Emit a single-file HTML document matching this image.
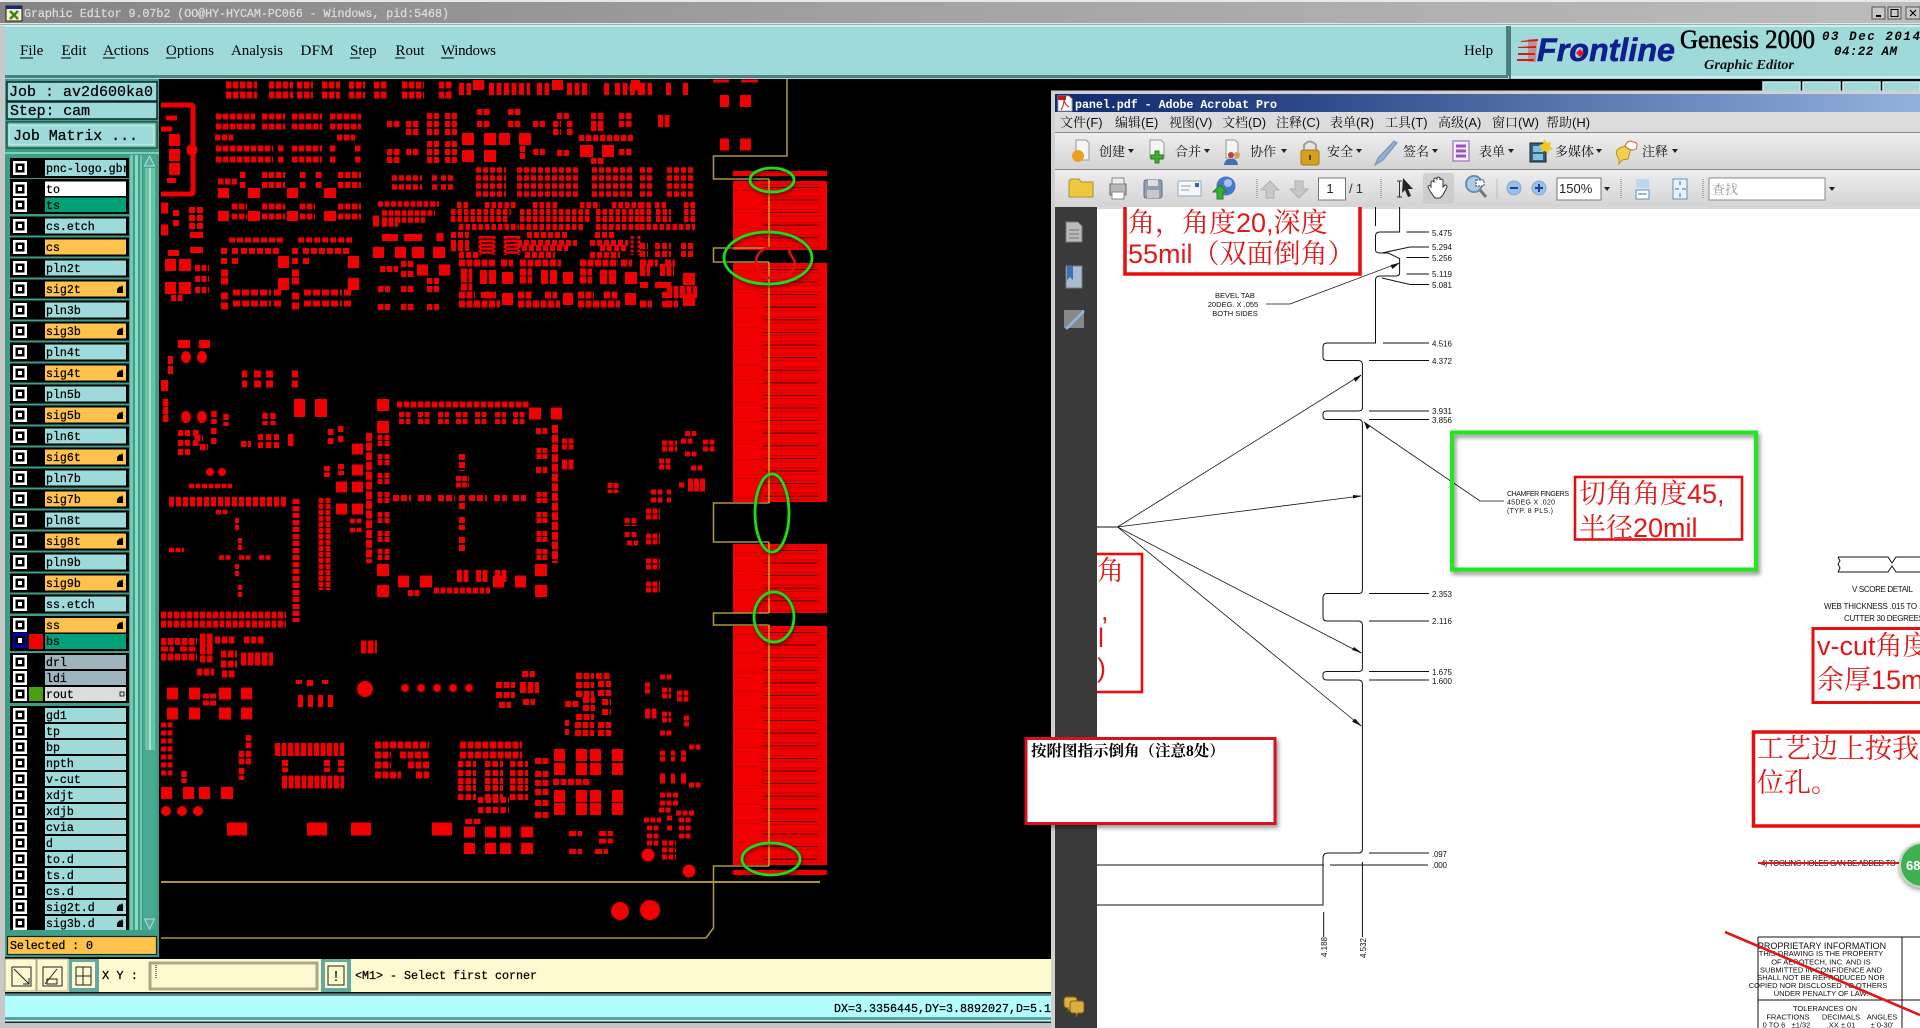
<!DOCTYPE html>
<html><head><meta charset="utf-8"><title>Graphic Editor</title>
<style>
html,body{margin:0;padding:0;background:#000;width:1920px;height:1028px;overflow:hidden}
svg{display:block}
.m{font-family:"Liberation Mono",monospace}
.s{font-family:"Liberation Serif",serif}
.a{font-family:"Liberation Sans",sans-serif}
.l{font:11.6px "Liberation Mono",monospace;fill:#000;stroke:#000;stroke-width:.25}
.mn{font:15px "Liberation Serif",serif;fill:#000}
.t{font:13px "Liberation Sans","Noto Serif CJK SC",serif;fill:#111}
.d{font:8px "Liberation Sans",sans-serif;fill:#111}
.d7{font:7px "Liberation Sans",sans-serif;fill:#111}
.r{font:27px "Liberation Sans","Noto Serif CJK SC",serif;fill:#e01818}
.c{font:7.5px "Liberation Sans",sans-serif;fill:#111;text-anchor:middle}
</style></head><body>
<svg width="1920" height="1028" viewBox="0 0 1920 1028" xmlns="http://www.w3.org/2000/svg">
<defs>
<linearGradient id="tb" x1="0" x2="1" y1="0" y2="0"><stop offset="0" stop-color="#858585"/><stop offset=".5" stop-color="#a4a4a4"/><stop offset="1" stop-color="#bcbcbc"/></linearGradient>
<linearGradient id="pt" x1="0" x2="1" y1="0" y2="0"><stop offset="0" stop-color="#0f2a6e"/><stop offset=".3" stop-color="#2f4a8a"/><stop offset="1" stop-color="#92b2de"/></linearGradient>
<linearGradient id="tg" x1="0" x2="0" y1="0" y2="1"><stop offset="0" stop-color="#eeeeee"/><stop offset="1" stop-color="#d4d4d4"/></linearGradient>
<g id="c"><rect x="13" y="-7" width="14" height="14" fill="#fff"/><rect x="15.5" y="-4.5" width="9" height="9" fill="#000"/><rect x="18" y="-2" width="4" height="4" fill="#fff"/></g>
<path id="h" d="M117 4h6v-6l-1-2-1 2-1-1-3 3z" fill="#000"/>
<clipPath id="pc"><rect x="1097" y="207" width="823" height="821"/></clipPath>
</defs>

<rect width="1920" height="1028" fill="#000"/>
<!-- title -->
<rect width="1920" height="2" fill="#e8e8e8"/>
<rect y="2" width="1920" height="21" fill="url(#tb)"/>
<rect y="23" width="1920" height="1.5" fill="#e4e4e4"/>
<rect y="24.5" width="1920" height="1.5" fill="#567e7e"/>
<rect x="6" y="6" width="16" height="15" fill="#f4f4c8" stroke="#222"/>
<rect x="6" y="6" width="16" height="3" fill="#1a237e"/>
<path d="M10 11l8 8M18 11l-8 8" stroke="#38861a" stroke-width="2.5"/>
<text x="24" y="17" class="m" font-size="11.7" fill="#dcdcdc" stroke="#dcdcdc" stroke-width=".25" textLength="425">Graphic Editor 9.07b2 (OO@HY-HYCAM-PC066 - Windows, pid:5468)</text>
<rect x="1872" y="7" width="13" height="12" fill="#c8c8c8" stroke="#555"/><rect x="1876" y="15" width="5" height="2" fill="#000"/>
<rect x="1888" y="7" width="13" height="12" fill="#c8c8c8" stroke="#555"/><rect x="1891" y="9.5" width="7" height="7" fill="none" stroke="#000"/>
<rect x="1906" y="7" width="14" height="12" fill="#c8c8c8" stroke="#555"/><path d="M1910 10l6 6M1916 10l-6 6" stroke="#000" stroke-width="1.2"/>

<!-- menu -->
<rect y="26" width="1920" height="53" fill="#9fdada"/>
<rect y="25" width="1920" height="2" fill="#cdeeee"/>
<rect x="0" y="75" width="1508" height="3" fill="#4e7f80"/>
<rect x="1506" y="26" width="3" height="50" fill="#4e7f80"/>
<rect x="1509" y="26" width="2" height="53" fill="#4e7f80"/>
<rect x="1511" y="76" width="409" height="2" fill="#cdeeee"/>
<rect x="0" y="26" width="5" height="1002" fill="#c8c8c8"/>
<g class="mn">
<text x="20" y="55" class="mn">File</text><text x="61.5" y="55" class="mn">Edit</text><text x="103" y="55" class="mn" textLength="46">Actions</text><text x="166" y="55" class="mn" textLength="48">Options</text><text x="231" y="55" class="mn" textLength="52">Analysis</text><text x="300.5" y="55" class="mn" textLength="33">DFM</text><text x="350" y="55" class="mn">Step</text><text x="395.5" y="55" class="mn" textLength="29">Rout</text><text x="441" y="55" class="mn" textLength="55">Windows</text><text x="1464" y="55" class="mn">Help</text>
</g>
<path d="M20 58h13M61 58h10M103 58h12M166 58h10M350 58h10M395 58h10M441 58h13" stroke="#000"/>
<!-- frontline -->
<path d="M1521 41l17-2v2l-17 1zM1518 47l18-1v2h-18zM1518 53h17v2h-17zM1517 59l17 0v2h-17z" fill="#e41414"/>
<path d="M1528 39h9l-1 23h-8z" fill="#e41414" opacity=".35"/>
<text x="1537" y="61" class="a" font-size="32" font-weight="bold" font-style="italic" fill="#101f8c" stroke="#101f8c" stroke-width=".6" textLength="138" lengthAdjust="spacingAndGlyphs">Frontline</text>
<path d="M1580 49l4 4-4 4-4-4z" fill="#e41414"/>
<text x="1680" y="48" class="s" font-size="26" fill="#000" stroke="#000" stroke-width=".6" textLength="135" lengthAdjust="spacingAndGlyphs">Genesis 2000</text>
<text x="1704" y="69" class="s" font-size="14" font-style="italic" font-weight="bold" fill="#111" textLength="90" lengthAdjust="spacingAndGlyphs">Graphic Editor</text>
<text x="1822" y="40" class="m" font-size="12.5" font-style="italic" font-weight="bold" fill="#000" textLength="98" xml:space="preserve">03 Dec 2014</text>
<text x="1834" y="55" class="m" font-size="12.5" font-style="italic" font-weight="bold" fill="#000" textLength="63">04:22 AM</text>
<!-- top small buttons -->
<g fill="#9fdada" stroke="#cdeeee" stroke-width="1.5"><rect x="1763" y="82" width="37" height="12"/><rect x="1803" y="82" width="37" height="12"/><rect x="1843" y="82" width="37" height="12"/><rect x="1883" y="82" width="37" height="12"/></g>

<!-- PCB -->
<g fill="none" stroke="#f00000">
<path stroke-width="7" stroke-dasharray="5.5 1.5" d="M226 85h31M269 85h24M297 85h16M322 85h18M349 85h16M374 85h14M402 85h22M439 85h14M226 95h31M269 95h24M297 95h16M322 95h18M349 95h16M374 95h14M402 95h22M439 95h14"/>
<path stroke-width="12" stroke-dasharray="5 2.5" d="M459 89h12M489 89h41M537 89h12M567 89h23M604 89h6M615 89h25M640 89h12M666 89h5M683 89h5"/>
<path stroke-width="10" d="M473 85h11M552 85h11M631 85h9"/>
<path stroke-width="12" d="M720 101h9M740 101h11M720 144.500h9M740 144.500h11"/>
<path stroke-width="3" d="M713 81h16M741 81h17"/>
<path stroke-width="12" stroke-dasharray="5 1.500" d="M658 121h13"/>
<path stroke-width="6" stroke-dasharray="5.500 1.500" d="M216 116.500h39M262 116.500h23M292 116.500h30M330 116.500h31M216 126.500h39M262 126.500h23M292 126.500h30M330 126.500h31M215 137.500h18M337 137.500h18M216 148.500h57M278 148.500h7M292 148.500h30M330 148.500h7M355 148.500h6M216 159.500h57M278 159.500h7M292 159.500h30M330 159.500h7M355 159.500h6M240 175h7M262 175h23M300 175h7M316 175h7M338 175h23M240 185h7M262 185h23M300 185h7M316 185h7M338 185h23M218 181.500h19M232 206.500h15M262 206.500h23M300 206.500h15M338 206.500h23M232 216.500h15M262 216.500h23M300 216.500h15M338 216.500h23"/>
<path stroke-width="10" d="M218 193h11M248 193h12M287 193h11M324 193h12M218 216h11M248 216h12M287 216h11M324 216h12"/>
<path stroke-width="5" d="M161 105h30q2 0 2 2v85q0 2-2 2h-30"/>
<path stroke-width="12" d="M169 140h11M169 155h11M169 169h11"/>
<path stroke-width="5" d="M167 180.500h9M166 118h11M161 129h11"/>
<path stroke-width="11" d="M161 208h7M161 230h7"/>
<path stroke-width="6" d="M173 213h6M173 223h6M190 235h13M190 250h13M168 253h11"/>
<path stroke-width="6" stroke-dasharray="6 2" d="M189 210h16M189 218h16M189 226h16"/>
<path stroke-width="12" d="M165 265h11M179 265h12M165 288h11M179 288h12"/>
<path stroke-width="6" stroke-dasharray="5 1.500" d="M195 268h14M195 279h14M195 290h14M171 298h13"/>
<path stroke-width="5" stroke-dasharray="6 2" d="M229 240h55M298 240h56"/>
<path stroke-width="6" stroke-dasharray="6 2" d="M241 251h39M303 251h46M221 251h7M232 251h7M292 251h6M221 261h7M232 261h7M292 261h6M303 261h7"/>
<path stroke-width="12" d="M278 262h11M348 262h11M278 284h11M348 284h11"/>
<path stroke-width="7" d="M221 273h7M292 273h7M221 281h7M292 281h7M221 296h7M292 296h7M221 306h7M292 306h7"/>
<path stroke-width="6" stroke-dasharray="7 2" d="M233 292.500h38M274 292.500h7M304 292.500h38M344 292.500h7M233 303.500h38M274 303.500h7M304 303.500h38M344 303.500h7"/>
<path stroke-width="6" stroke-dasharray="5.500 1.500" d="M427 116h12M445 116h12M477 112h13M508 112h14M557 116h12M591 116h13M619 116h14M387 124h13M406 124h14M427 124h12M445 124h12M477 124h13M508 124h14M533 124h12M553 124h8M567 124h6M591 124h13M619 124h14M406 132h14M427 132h12M445 132h12M553 132h8M567 132h6M591 128h13M579 138h54M427 144h12M445 144h12M387 152h13M406 152h14M427 152h12M445 152h12M533 152h12M557 153h12M619 152h14M387 160h13M427 160h12M445 160h12M591 161h13"/>
<path stroke-width="12" d="M462 139h12M484 139h12M499 139h11M519 139h12M462 156h12M484 156h12M580 151h13M602 151h12"/>
<path stroke-width="6" d="M520 149h5M520 156h5"/>
<path stroke-width="5.500" stroke-dasharray="5 2" d="M476 170h30M517 170h63M592 170h41M640 170h13M667 170h28M476 178h30M517 178h63M592 178h41M640 178h13M667 178h28M476 186h30M517 186h63M592 186h41M640 186h13M667 186h28M476 194h30M517 194h63M592 194h41M640 194h13M667 194h28M392 178h30M432 178h7M441 178h12M392 187h30M432 187h7M441 187h12"/>
<path stroke-width="5.500" stroke-dasharray="5 1.500" d="M378 204h61M382 213h53M382 220h43M382 224h16"/>
<path stroke-width="11" d="M373 221h6"/>
<path stroke-width="6" stroke-dasharray="4.500 2" d="M457 205h12M485 205h31M533 205h24M580 205h20M612 205h28M640 205h13M655 205h12M684 205h11M451 212h60M520 212h70M596 212h44M640 212h13M656 212h15M684 212h11M451 219h58M520 219h70M596 219h44M640 219h13M656 219h15M684 219h11M459 227h60M520 227h64M596 227h44M640 227h55"/>
<path stroke-width="6" stroke-dasharray="5 2" d="M451 235h18M527 235h40M595 235h20M451 243h18M517 243h60M590 243h38M451 248h18M522 248h46M600 248h28M459 255h20M525 255h30M590 255h30M640 246h8M655 246h16M681 246h12M640 254h8M655 254h16M681 254h12"/>
<path stroke-width="3" stroke-dasharray="3 1.500" d="M480 236v19M494 236v19M505 236v19M519 236v19M632 236v19M639 236v19"/>
<path stroke-width="14" stroke-dasharray="2.500 1.300" d="M487 236v19M512 236v19"/>
<path stroke-width="7" d="M382 237.500h16M404 237.500h18M440 233v8"/>
<path stroke-width="11" d="M373 252.500h11M395 252.500h11M412 252.500h12M433 252.500h12"/>
<path stroke-width="6" stroke-dasharray="5.500 1.500" d="M380 269h18M401 264h13M401 274h13M378 289h12M401 289h13M427 289h12M378 307h12M401 307h13M427 307h12M427 281h12"/>
<path stroke-width="11" d="M417 270h11M439 270h11"/>
<path stroke-width="7" stroke-dasharray="6 1.500" d="M459 263h37M501 263h12M520 263h41M580 263h38M621 263h11M640 263h18M665 263h10M461 272h11M461 279h11M461 287h11M520 272h12M520 280h12M580 272h12M580 280h12M459 295h16M486 295h10M518 295h14M545 295h12M578 295h16M604 295h14M459 304h41M518 304h42M578 304h42M640 304h12M666 304h12"/>
<path stroke-width="14" stroke-dasharray="7 2" d="M480 277h16M541 277h16M600 277h16"/>
<path stroke-width="12" d="M502 278h11M563 278h10M625 278h12M502 299h11M563 299h10M625 299h11M683 279h12M683 300h12"/>
<path stroke-width="6" d="M481 295h12M640 285h8M655 285h16M662 295h8M662 304h8"/>
<path stroke-width="12" stroke-dasharray="5 1.500" d="M667 292h30M640 270h10M660 270h14"/>
<path stroke-width="8" d="M178 344h12M199 344h11M168 360h5M168 370h5"/>
<path stroke-width="11" d="M161 385.500h7"/>
<path stroke-width="7" d="M242 374h5M254 374h7M266 374h7M292 374h6M242 384h5M254 384h7M266 384h7M292 384h6"/>
<path stroke-width="18" d="M294 408h11M315 408h12"/>
<path stroke-width="5.500" stroke-dasharray="7 1" d="M165.500 399v23"/>
<path stroke-width="5.500" stroke-dasharray="6 2" d="M214 411v13M226 414v12M265 413v12M273 413v12"/>
<path stroke-width="6" stroke-dasharray="5.500 1.500" d="M397 404.500h132M178 433h12M193 433h7M178 443h12M193 443h7M178 452h12M211 431h6M211 441h6M195 438h8M200 447h8M241 444h10M258 437h5M266 437h6M274 437h5M258 445h5M266 445h6M274 445h5M288 437h6M288 443h6M328 432h6M328 441h6M338 429h6M338 439h6"/>
<path stroke-width="11" d="M352 449h11M352 470h11M336 487h11M352 487h11M336 509h11M352 509h11"/>
<path stroke-width="6" stroke-dasharray="5 1.500" d="M327 466v11M341 464v11"/>
<path stroke-width="5" stroke-dasharray="5 1.500" d="M399 414.500h12M418 414.500h13M438 414.500h11M456 414.500h13M475 414.500h13M495 414.500h11M513 414.500h13M399 421.500h12M418 421.500h13M438 421.500h11M456 421.500h13M475 421.500h13M495 421.500h11M513 421.500h13"/>
<path stroke-width="12" d="M377 405h12M377 427h12M529 413.500h12M551 413.500h11M377 570h12M377 591h12M398 581.500h11M420 581.500h12M493 581.500h11M515 581.500h11M535 570h12M535 591h12"/>
<path stroke-width="6" stroke-dasharray="8 1.700" d="M369 433v130M555 425v138"/>
<path stroke-width="5" stroke-dasharray="5 1" d="M380 435v12M387 435v12M380 454v12M387 454v12M380 473v12M387 473v12M380 492v12M387 492v12M380 512v11M387 512v11M380 531v11M387 531v11M380 549v12M387 549v12M539 448v11M545 448v11M539 492v12M545 492v12M539 512v11M545 512v11M539 531v11M545 531v11M539 549v12M545 549v12"/>
<path stroke-width="6" stroke-dasharray="5 1.500" d="M536 431h12M536 470h12"/>
<path stroke-width="5" stroke-dasharray="5 1.500" d="M562 441h13M562 447h13M562 462h13M562 467h13"/>
<path stroke-width="6" stroke-dasharray="6 2" d="M462 454v17M462 495v14M462 517v13M462 537v16M393 498h18M418 498h13M438 498h17M469 498h18M494 498h13M513 498h13"/>
<path stroke-width="5" stroke-dasharray="5 1" d="M456 478.500h13M456 485h13"/>
<path stroke-width="6" stroke-dasharray="5 1.500" d="M434 590.500h56M408 593h12M457 573h12M476 573h12M495 573h12M457 579h12M476 579h12M495 579h12"/>
<path stroke-width="5" stroke-dasharray="5 1" d="M321 498v92M328 498v92"/>
<path stroke-width="7" stroke-dasharray="5 2" d="M296 499v123"/>
<path stroke-width="5" stroke-dasharray="5 2" d="M169 499.500h117M169 504h117"/>
<path stroke-width="4.500" stroke-dasharray="5 1.500" d="M189 486h43M216 512h13M219 557.500h12M239 557.500h13M259 557.500h12M169 550h15M350 521h12M350 530h12"/>
<path stroke-width="4" stroke-dasharray="5 2" d="M237 518v12M240 538v12M237 564v12M240 585v12"/>
<path stroke-width="7" stroke-dasharray="5 1.500" d="M161 615h125M161 624h125"/>
<path stroke-width="7" stroke-dasharray="5.500 1.500" d="M161 641.500h36M200 637h13M200 644h13M200 651h13M200 659h13M215 640h20M244 640h20M221 654h16M221 664h16M241 656h32M241 662h32M161 657h36M197 672h17M222 674h13M361 644h16M361 650h16"/>
<path stroke-width="5" stroke-dasharray="7 1.500" d="M161 649h13M180 649h16"/>
<path stroke-width="12" d="M167 693.500h11M189 693.500h11M219 693.500h12M241 693.500h11M167 713.500h11M189 713.500h11M219 713.500h12M241 713.500h11"/>
<path stroke-width="5" stroke-dasharray="6 1" d="M203 696h14M203 703h14"/>
<path stroke-width="6" stroke-dasharray="5 5" d="M298 698h35M298 704h35"/>
<path stroke-width="6" d="M299 680v4M310 680v6M325 680v4"/>
<path stroke-width="5" stroke-dasharray="5 1.500" d="M161 725h13M161 733h13M161 741h13M161 749h13M161 757h13M161 765h13M161 773h13"/>
<path stroke-width="5.500" stroke-dasharray="6 1.500" d="M248.500 735v13M241.500 751v14M248.500 751v14M241.500 768v12M184 771v12"/>
<path stroke-width="13" stroke-dasharray="5 1.500" d="M275 749.500h69M282 782h62"/>
<path stroke-width="6" stroke-dasharray="6 1.500" d="M285 760v12M327 760v12M341 760v12"/>
<path stroke-width="7" stroke-dasharray="6 1.500" d="M375 745h54M375 755h16M400 755h29M375 765h16M408 765h21M375 775h26M416 775h13M460 745h62M460 755h62"/>
<path stroke-width="6" stroke-dasharray="5.500 2" d="M458 764h18M485 764h18M510 764h18M458 773h18M485 773h18M510 773h18M458 781h18M485 781h18M510 781h18M458 788h18M485 788h18M510 788h18M458 797h18M485 797h18M510 797h18M478 800h31M478 810h31"/>
<path stroke-width="6" stroke-dasharray="6 1.500" d="M535 761h14M535 774h14M535 783h14M535 792h14M535 803h14M535 815h14"/>
<path stroke-width="6" stroke-dasharray="6 1.500" d="M553 782h38"/>
<path stroke-width="12" d="M554 755h11M576 755h11M590 755h11M612 755h11M554 769h11M576 769h11M590 769h11M612 769h11M554 796h11M576 796h11M590 796h11M612 796h11M554 809h11M576 809h11M590 809h11M612 809h11M161 793h11M183 793h11M199 793h11M221 793h12"/>
<path stroke-width="13" d="M227 829h20M307 829h20M351 829h20M432 829h20"/>
<path stroke-width="5" stroke-dasharray="7 1.500" d="M465 821.500h17M569 833.500h13M599 833.500h14M599 841h14M569 851.500h13M595 851.500h13"/>
<path stroke-width="11" d="M464 832h11M485 832h11M500 832h11M521 832h12M464 848.500h11M485 848.500h11M500 848.500h11M521 848.500h12"/>
<path stroke-width="6" stroke-dasharray="6 1.500" d="M496 685h19M522 674h13M496 695h19M520 685h19M520 690h19M523 702h12M499 705h12M565 704h14M583 700h12M583 708h12M602 702h9M602 712h9M576 717h18M575 725h19M575 733h19M598 725h13M598 733h13M576 685h18M576 694h18M598 684h13M598 693h13M565 723h4M565 732h4M576 676h18M596 676h14"/>
<path stroke-width="5" stroke-dasharray="5 1.500" d="M610 483v10M616 483v10M627 518v8M634 518v8M627 532v6M634 532v6M627 543h11"/>
<path stroke-width="5" stroke-dasharray="5 1.500" d="M685 433.500h12M662 443h15M662 449h15M681 441h12M703 442h12M703 449h12M685 454h12M659 461h13M659 467h13M691 468h12M679 485h5M651 492h13M651 500h13M667 492h4M667 500h4"/>
<path stroke-width="13" stroke-dasharray="5 1" d="M688 485h17"/>
<path stroke-width="5" stroke-dasharray="5 1.500" d="M646 511h14M646 517h14M646 536h14M646 542h14M646 561h14M646 567h14M646 584h14M646 590h14M660 677h13"/>
<path stroke-width="5" stroke-dasharray="5 1.500" d="M645 685h6M645 691h6M662 690h9M662 696h9M677 693h12M677 699h12M645 711h12M645 716h12M662 714h9M662 720h9M684 718h5M684 724h5M660 733h13M689 747h12M660 753h5M671 753h4M681 753h5M660 759h5M671 759h4M681 759h5M660 776h5M671 776h4M681 776h5M660 781h5M671 781h4M681 781h5M689 785h12M660 795h18M660 803h18M659 810h13M676 813h18M644 820h17M667 818h6M667 828h6M679 820h12M679 828h12M679 836h12M647 828h13M647 836h13M647 843h13M662 843h14M662 850h14M662 857h14"/>
</g>
<g fill="#f00000">
<ellipse cx="192" cy="150" rx="5.500" ry="6"/>
<ellipse cx="186" cy="357" rx="5" ry="6"/><ellipse cx="202" cy="357" rx="5" ry="6"/>
<ellipse cx="186" cy="417" rx="5" ry="6"/><ellipse cx="202" cy="417" rx="5" ry="6"/>
<circle cx="210" cy="472" r="4"/><circle cx="222" cy="472" r="4"/>
<circle cx="365" cy="689" r="8"/><circle cx="405" cy="688" r="4"/><circle cx="421" cy="688" r="4"/><circle cx="437" cy="688" r="4"/><circle cx="453" cy="688" r="4"/><circle cx="469" cy="688" r="4"/>
<circle cx="166" cy="811" r="5"/><circle cx="182" cy="811" r="5"/><circle cx="198" cy="811" r="5"/>
<circle cx="620" cy="911" r="9"/><circle cx="650" cy="910" r="10"/><circle cx="648" cy="855" r="6.500"/><circle cx="689" cy="871" r="6.500"/>
<!-- fingers -->
<rect x="733" y="171" width="94" height="5"/>
<rect x="733" y="181" width="94" height="69"/>
<rect x="733" y="263" width="94" height="239"/>
<rect x="733" y="544" width="94" height="69"/>
<rect x="733" y="626" width="94" height="239"/>
<rect x="733" y="870" width="94" height="5"/>
</g>
<g fill="none">
<path stroke="#c00000" stroke-width="61" stroke-dasharray=".8 5.500" d="M791 184V250M791 266V502M791 547V613M791 629V865"/>
<path stroke="#200000" stroke-width="55" stroke-dasharray=".8 11.800" d="M791 187V250M791 269V502M791 550V613M791 632V865"/>
<path stroke="#c00000" stroke-width="28" stroke-dasharray=".7 18.200" d="M747 190V250M747 270V502M747 552V613M747 634V865"/>
</g>
<g fill="none" stroke="#ac943c" stroke-width="1.600">
<path d="M787 79V156H713.500V179H769M769 248H713.500V262H769M769 503H713.500V542H769M769 613H713.500V625H769M769 866H713.500V928L706 938H161"/>
<path stroke-width="2" d="M161 882H820"/>
</g>
<path d="M769 179V248M769 262V503M769 542V613M769 625V866" stroke="#d49a1c" stroke-width="1.600" fill="none"/>
<path d="M789 248C788 254 795 258 795 264 794 274 781 278 771 278 763 278 757 272 756 263 756 256 760 248 770 248" fill="none" stroke="#e01010" stroke-width="2.500"/>
<path d="M756 263C758 272 762 278 768 279" fill="none" stroke="#e01010" stroke-width="2"/>
<g fill="none" stroke="#16e016" stroke-width="2.800" style="filter:drop-shadow(1.500px 2px 1.500px rgba(60,0,0,.7))">
<ellipse cx="772" cy="180" rx="22" ry="12"/><ellipse cx="768" cy="258" rx="44" ry="26"/><ellipse cx="772" cy="513" rx="17" ry="39"/><ellipse cx="774" cy="617" rx="20" ry="25"/><ellipse cx="771" cy="859" rx="29" ry="16"/>
</g>

<!-- left panel -->
<rect x="5" y="79" width="154" height="878" fill="#3f9d88"/>
<rect x="7" y="82" width="150" height="19" fill="#9fdada" stroke="#0a2a2a" stroke-width="1.500"/>
<text x="9" y="96" class="m" font-size="15" fill="#000" stroke="#000" stroke-width=".25" textLength="144" xml:space="preserve">Job : av2d600ka0</text>
<rect x="7" y="102" width="150" height="17" fill="#9fdada" stroke="#0a2a2a" stroke-width="1.500"/>
<text x="10" y="115" class="m" font-size="15" fill="#000" stroke="#000" stroke-width=".25" textLength="80">Step: cam</text>
<rect x="7" y="122" width="150" height="26" fill="#6cc2ad" stroke="#0a2a2a"/>
<rect x="9" y="125" width="145" height="20" fill="#9fdada" stroke="#d4f4f4"/>
<text x="13" y="140" class="m" font-size="15" fill="#000" stroke="#000" stroke-width=".25" textLength="125" xml:space="preserve">Job Matrix ...</text>
<rect x="5" y="152" width="154" height="2" fill="#7fd0bc"/>
<rect x="130" y="155" width="3" height="775" fill="#6fcab0"/><rect x="135" y="155" width="3" height="775" fill="#8adac4"/><rect x="140" y="155" width="2" height="775" fill="#6fcab0"/>
<rect x="143" y="155" width="13" height="775" fill="#48a890"/>
<rect x="145" y="168" width="10" height="582" fill="#6cc4a8"/><rect x="149" y="168" width="2" height="582" fill="#a6e4d0"/>
<path d="M149.500 156l5 10h-10z" fill="#5fa9a0" stroke="#a6e4d0"/>
<path d="M149.500 929l5-10h-10z" fill="#5fa9a0" stroke="#a6e4d0"/>

<g fill="#000">
<rect x="10" y="158" width="119" height="20"/><rect x="10" y="179" width="119" height="35"/>
<rect x="10" y="216.500" width="119" height="19"/><rect x="10" y="237.500" width="119" height="19"/><rect x="10" y="258.500" width="119" height="19"/><rect x="10" y="279.500" width="119" height="19"/><rect x="10" y="300.500" width="119" height="19"/><rect x="10" y="321.500" width="119" height="19"/><rect x="10" y="342.500" width="119" height="19"/><rect x="10" y="363.500" width="119" height="19"/><rect x="10" y="384.500" width="119" height="19"/><rect x="10" y="405.500" width="119" height="19"/><rect x="10" y="426.500" width="119" height="19"/><rect x="10" y="447.500" width="119" height="19"/><rect x="10" y="468.500" width="119" height="19"/><rect x="10" y="489.500" width="119" height="19"/><rect x="10" y="510.500" width="119" height="19"/><rect x="10" y="531.500" width="119" height="19"/><rect x="10" y="552.500" width="119" height="19"/><rect x="10" y="573.500" width="119" height="19"/><rect x="10" y="594.500" width="119" height="19"/>
<rect x="10" y="616" width="119" height="35"/>
<rect x="10" y="653" width="119" height="50"/>
<rect x="10" y="706" width="119" height="224"/>
</g>
<g fill="#9fdada">
<rect x="45" y="160" width="81" height="16"/><rect x="45" y="218.500" width="81" height="15"/><rect x="45" y="260.500" width="81" height="15"/><rect x="45" y="302.500" width="81" height="15"/><rect x="45" y="344.500" width="81" height="15"/><rect x="45" y="386.500" width="81" height="15"/><rect x="45" y="428.500" width="81" height="15"/><rect x="45" y="470.500" width="81" height="15"/><rect x="45" y="512.500" width="81" height="15"/><rect x="45" y="554.500" width="81" height="15"/><rect x="45" y="596.500" width="81" height="15"/>
<rect x="45" y="708" width="81" height="14"/><rect x="45" y="724" width="81" height="14"/><rect x="45" y="740" width="81" height="14"/><rect x="45" y="756" width="81" height="14"/><rect x="45" y="772" width="81" height="14"/><rect x="45" y="788" width="81" height="14"/><rect x="45" y="804" width="81" height="14"/><rect x="45" y="820" width="81" height="14"/><rect x="45" y="836" width="81" height="14"/><rect x="45" y="852" width="81" height="14"/><rect x="45" y="868" width="81" height="14"/><rect x="45" y="884" width="81" height="14"/><rect x="45" y="900" width="81" height="14"/><rect x="45" y="916" width="81" height="14"/>
</g>
<g fill="#ffc34d">
<rect x="45" y="239.500" width="81" height="15"/><rect x="45" y="281.500" width="81" height="15"/><rect x="45" y="323.500" width="81" height="15"/><rect x="45" y="365.500" width="81" height="15"/><rect x="45" y="407.500" width="81" height="15"/><rect x="45" y="449.500" width="81" height="15"/><rect x="45" y="491.500" width="81" height="15"/><rect x="45" y="533.500" width="81" height="15"/><rect x="45" y="575.500" width="81" height="15"/><rect x="45" y="618" width="81" height="14.500"/>
</g>
<rect x="45" y="181.500" width="81" height="14.500" fill="#fff"/>
<rect x="45" y="197.500" width="81" height="14.500" fill="#00a078"/>
<rect x="45" y="634" width="81" height="15" fill="#00a078"/>
<rect x="29" y="634" width="14" height="15" fill="#f00000"/>
<rect x="45" y="655" width="81" height="14" fill="#9eb5bd"/><rect x="45" y="671" width="81" height="14" fill="#9eb5bd"/>
<rect x="45" y="687" width="81" height="14" fill="#dcdcdc"/>
<rect x="29" y="687" width="14" height="14" fill="#4a9e10"/>
<rect x="120" y="692" width="4" height="4" fill="none" stroke="#000" stroke-width=".8"/>
<rect x="13" y="633" width="14" height="15" fill="#0000c0"/>

<g>
<use href="#c" y="168"/><use href="#c" y="189"/><use href="#c" y="205"/><use href="#c" y="226"/><use href="#c" y="247"/><use href="#c" y="268"/><use href="#c" y="289"/><use href="#c" y="310"/><use href="#c" y="331"/><use href="#c" y="352"/><use href="#c" y="373"/><use href="#c" y="394"/><use href="#c" y="415"/><use href="#c" y="436"/><use href="#c" y="457"/><use href="#c" y="478"/><use href="#c" y="499"/><use href="#c" y="520"/><use href="#c" y="541"/><use href="#c" y="562"/><use href="#c" y="583"/><use href="#c" y="604"/><use href="#c" y="625"/><use href="#c" y="662"/><use href="#c" y="678"/><use href="#c" y="694"/><use href="#c" y="715"/><use href="#c" y="731"/><use href="#c" y="747"/><use href="#c" y="763"/><use href="#c" y="779"/><use href="#c" y="795"/><use href="#c" y="811"/><use href="#c" y="827"/><use href="#c" y="843"/><use href="#c" y="859"/><use href="#c" y="875"/><use href="#c" y="891"/><use href="#c" y="907"/><use href="#c" y="923"/>
</g>
<rect x="15" y="636" width="10" height="9" fill="#000"/><rect x="18" y="638" width="4" height="5" fill="#fff"/>
<g>
<use href="#h" y="289"/><use href="#h" y="331"/><use href="#h" y="373"/><use href="#h" y="415"/><use href="#h" y="457"/><use href="#h" y="499"/><use href="#h" y="541"/><use href="#h" y="583"/><use href="#h" y="625"/><use href="#h" y="907"/><use href="#h" y="923"/>
</g>
<g class="l">
<text x="46" y="172" class="l">pnc-logo.gbr</text><text x="46" y="193" class="l">to</text><text x="46" y="209" class="l">ts</text><text x="46" y="230" class="l">cs.etch</text><text x="46" y="251" class="l">cs</text><text x="46" y="272" class="l">pln2t</text><text x="46" y="293" class="l">sig2t</text><text x="46" y="314" class="l">pln3b</text><text x="46" y="335" class="l">sig3b</text><text x="46" y="356" class="l">pln4t</text><text x="46" y="377" class="l">sig4t</text><text x="46" y="398" class="l">pln5b</text><text x="46" y="419" class="l">sig5b</text><text x="46" y="440" class="l">pln6t</text><text x="46" y="461" class="l">sig6t</text><text x="46" y="482" class="l">pln7b</text><text x="46" y="503" class="l">sig7b</text><text x="46" y="524" class="l">pln8t</text><text x="46" y="545" class="l">sig8t</text><text x="46" y="566" class="l">pln9b</text><text x="46" y="587" class="l">sig9b</text><text x="46" y="608" class="l">ss.etch</text><text x="46" y="629" class="l">ss</text><text x="46" y="645" class="l">bs</text><text x="46" y="666" class="l">drl</text><text x="46" y="682" class="l">ldi</text><text x="46" y="698" class="l">rout</text><text x="46" y="719" class="l">gd1</text><text x="46" y="735" class="l">tp</text><text x="46" y="751" class="l">bp</text><text x="46" y="767" class="l">npth</text><text x="46" y="783" class="l">v-cut</text><text x="46" y="799" class="l">xdjt</text><text x="46" y="815" class="l">xdjb</text><text x="46" y="831" class="l">cvia</text><text x="46" y="847" class="l">d</text><text x="46" y="863" class="l">to.d</text><text x="46" y="879" class="l">ts.d</text><text x="46" y="895" class="l">cs.d</text><text x="46" y="911" class="l">sig2t.d</text><text x="46" y="927" class="l">sig3b.d</text>
</g>
<rect x="5" y="930" width="154" height="4" fill="#3f9d88"/>
<rect x="7.500" y="936.500" width="149" height="18" fill="#ffc34d" stroke="#0a2a2a" stroke-width="1.200"/>
<text x="10" y="949" class="m" font-size="11.700" fill="#000" stroke="#000" stroke-width=".25" textLength="83" xml:space="preserve">Selected : 0</text>

<!-- bottom bar -->
<rect x="5" y="959" width="1046" height="33" fill="#fdfad0"/>
<rect x="5" y="959" width="31" height="32" fill="#fdfad0" stroke="#aaa88c"/>
<rect x="37" y="959" width="31" height="32" fill="#fdfad0" stroke="#aaa88c"/>
<rect x="69" y="959" width="30" height="33" fill="#63a99f"/>
<rect x="72" y="962" width="23" height="26" fill="#fdfad0"/>
<rect x="12" y="967" width="19" height="19" fill="none" stroke="#222"/><path d="M14 969l15 15M29 978v6h-6" stroke="#222" fill="none"/>
<rect x="43" y="967" width="19" height="19" fill="none" stroke="#222"/><path d="M45 984l12-15M47 979h10v5h-10z" stroke="#222" fill="none"/>
<rect x="76" y="967" width="15" height="18" fill="none" stroke="#222"/><path d="M76 976h15M83 967v18" stroke="#222"/>
<text x="102" y="979" class="m" font-size="12" fill="#000" stroke="#000" stroke-width=".25" xml:space="preserve">X Y :</text>
<rect x="150" y="963" width="167" height="26" fill="#fdfad0" stroke="#aaa888" stroke-width="3"/>
<path d="M156 965v14" stroke="#000" stroke-dasharray="1 1"/>
<rect x="321" y="959" width="30" height="33" fill="#63a99f"/>
<rect x="325" y="962" width="22" height="26" fill="#fdfad0"/>
<rect x="328" y="966" width="16" height="19" fill="none" stroke="#222"/>
<text x="336" y="981" class="m" font-size="15" text-anchor="middle" fill="#000">!</text>
<text x="355" y="979" class="m" font-size="11.700" fill="#000" stroke="#000" stroke-width=".25" textLength="182" xml:space="preserve">&lt;M1&gt; - Select first corner</text>
<rect x="5" y="992" width="1046" height="1.500" fill="#111"/>
<rect x="5" y="993.500" width="1046" height="2.500" fill="#5f8f8f"/>
<rect x="5" y="996" width="1046" height="21" fill="#b2fefe"/>
<rect x="5" y="1017" width="1046" height="3" fill="#5f9f9f"/>
<rect x="5" y="1020" width="1046" height="1.500" fill="#b2fefe"/>
<rect x="5" y="1021.500" width="1046" height="1.500" fill="#222"/>
<rect x="0" y="1023" width="1051" height="5" fill="#c4c4c4"/>
<text x="834" y="1012" class="m" font-size="11.700" fill="#000" stroke="#000" stroke-width=".25" textLength="217">DX=3.3356445,DY=3.8892027,D=5.1</text>

<!-- PDF window -->
<rect x="1051" y="90.500" width="869" height="938" fill="#d0d0d0"/>
<rect x="1055" y="94" width="865" height="18" fill="url(#pt)"/>
<path d="M1058 96h11l3 3v12h-14z" fill="#fff" stroke="#aaa"/><path d="M1058 96h8v4h-8z" fill="#c01818"/><path d="M1061 110q3-5 3-10q1 5 5 7" stroke="#c01818" fill="none"/>
<text x="1075" y="108" class="m" font-size="11.700" font-weight="bold" fill="#fff" textLength="202">panel.pdf - Adobe Acrobat Pro</text>
<rect x="1055" y="112" width="865" height="20.500" fill="#dcdcdc"/>
<rect x="1055" y="132" width="865" height="1" fill="#8a8a8a"/>
<g class="t">
<text x="1060" y="127" class="t">文件(F)</text><text x="1115" y="127" class="t">编辑(E)</text><text x="1169" y="127" class="t">视图(V)</text><text x="1222" y="127" class="t">文档(D)</text><text x="1276" y="127" class="t">注释(C)</text><text x="1330" y="127" class="t">表单(R)</text><text x="1385" y="127" class="t">工具(T)</text><text x="1438" y="127" class="t">高级(A)</text><text x="1492" y="127" class="t">窗口(W)</text><text x="1546" y="127" class="t">帮助(H)</text>
</g>
<rect x="1055" y="133" width="865" height="36" fill="url(#tg)"/>
<rect x="1055" y="169" width="865" height="1" fill="#8c8c8c"/>
<rect x="1055" y="170" width="865" height="37" fill="url(#tg)"/>
<rect x="1055" y="207" width="865" height="3" fill="#a8a8a8" opacity=".7"/>
<!-- toolbar1 -->
<path d="M1076 140v20h13v-17l-3-3z" fill="#f4f4f4" stroke="#999"/><circle cx="1078" cy="156" r="6" fill="#f0a020"/>
<path d="M1150 140v18h14v-15l-3-3z" fill="#f4f4f4" stroke="#999"/><path d="M1151 155h4v-4h4v4h4v4h-4v4h-4v-4h-4z" fill="#40b030" stroke="#2a7a20"/>
<path d="M1226 140v18h12v-15l-3-3z" fill="#f4f4f4" stroke="#999"/><circle cx="1231" cy="155" r="3" fill="#c84040"/><circle cx="1237" cy="155" r="3" fill="#d8a050"/><path d="M1224 165q1-7 7-6 6-1 7 6z" fill="#4070b0"/>
<rect x="1301" y="150" width="18" height="15" rx="2" fill="#d8a020" stroke="#a07818"/><path d="M1304 150v-5q6-7 12 0v5" fill="none" stroke="#a0a0a0" stroke-width="2"/><rect x="1309" y="155" width="2" height="5" fill="#5a3c08"/>
<path d="M1375 165l3-7 16-17 3 2-14 17z" fill="#90b0d0" stroke="#7a90b0"/>
<rect x="1453" y="141" width="16" height="20" fill="#f4f0fa" stroke="#8c58b8"/><path d="M1456 146h10M1456 151h10M1456 156h10" stroke="#9c50c0" stroke-width="3"/>
<rect x="1530" y="143" width="16" height="19" fill="#306080" stroke="#222"/><rect x="1533" y="146" width="10" height="6" fill="#80c0e0"/><rect x="1533" y="154" width="10" height="6" fill="#80c0e0"/><path d="M1544 139l3 4 4-1-1 4 3 3-4 1-1 4-3-3-4 1 1-4-3-3 4-1z" fill="#f0c820"/>
<path d="M1617 150q8-6 14-2l-3 11-6 1-3 4v-5q-4-5-2-9z" fill="#f4d050" stroke="#b89020"/><path d="M1625 146q3-7 8-4 6 0 3 7-5 3-11-3z" fill="#fff" stroke="#c06040"/>
<g class="t" font-size="13">
<text x="1099" y="156" class="t">创建</text><text x="1175" y="156" class="t">合并</text><text x="1250" y="156" class="t">协作</text><text x="1327" y="156" class="t">安全</text><text x="1403" y="156" class="t">签名</text><text x="1479" y="156" class="t">表单</text><text x="1555" y="156" class="t">多媒体</text><text x="1642" y="156" class="t">注释</text>
</g>
<path d="M1128 149h6l-3 4zM1204 149h6l-3 4zM1281 149h6l-3 4zM1356 149h6l-3 4zM1432 149h6l-3 4zM1508 149h6l-3 4zM1596 149h6l-3 4zM1672 149h6l-3 4zM1604 187h6l-3 4zM1829 187h6l-3 4z" fill="#222"/>
<!-- toolbar2 -->
<path d="M1069 197v-16l2-2h8l2 3h12v15z" fill="#f0c840" stroke="#b09030"/>
<rect x="1110" y="184" width="16" height="11" fill="#b8b8b8" stroke="#666"/><rect x="1112" y="178" width="12" height="6" fill="#eee" stroke="#888"/><rect x="1112" y="192" width="12" height="7" fill="#fff" stroke="#888"/>
<rect x="1144" y="180" width="18" height="18" rx="2" fill="#90a0b0" stroke="#607080"/><rect x="1148" y="180" width="10" height="6" fill="#e0e0e0"/><rect x="1147" y="190" width="12" height="8" fill="#c8c8c8"/>
<rect x="1178" y="181" width="23" height="15" fill="#f4f8fc" stroke="#90a8c0"/><path d="M1181 186h10M1181 190h8" stroke="#999"/><rect x="1195" y="183" width="4" height="4" fill="#3060c0"/>
<circle cx="1226" cy="186" r="9.500" fill="#4878c8"/><circle cx="1228" cy="183" r="4" fill="#a8c4ec"/><path d="M1213 192l7-7 7 7h-4v7h-6v-7z" fill="#38b030" stroke="#208020"/>
<path d="M1270 181l9 9h-5v8h-8v-8h-5z" fill="#c8c8c8" stroke="#b0b0b0"/>
<path d="M1299 198l9-9h-5v-8h-8v8h-5z" fill="#c8c8c8" stroke="#b0b0b0"/>
<rect x="1318.500" y="178" width="27" height="22" fill="#fff" stroke="#777"/>
<text x="1330" y="193" class="a" font-size="13" text-anchor="middle" fill="#222">1</text>
<text x="1349" y="193" class="a" font-size="13" fill="#333" textLength="14" xml:space="preserve">/ 1</text>
<path d="M1257 179v20M1381 179v20M1621 179v20M1703 179v20" stroke="#aaa" stroke-dasharray="1 1" stroke-width="2"/>
<path d="M1397 181h5M1397 197h5M1399.500 181v16" stroke="#333" fill="none"/><path d="M1403 178l10 11-5 0 3 7-3 1-3-7-3 3z" fill="#222"/>
<rect x="1423" y="173" width="31" height="31" rx="3" fill="#c6c6c6" opacity=".7"/>
<path d="M1431 188v-6q1-2 3 0v-3q1-2 3 0v-1q1-2 3 0v2q1-2 3 0v7l2-2q2 0 2 2l-4 8-3 3h-5l-5-7-2-4q0-2 3-1z" fill="#fff" stroke="#333"/>
<circle cx="1474" cy="184" r="8" fill="#a8cce8" stroke="#6a90b0" stroke-width="2"/><path d="M1480 190l6 7" stroke="#777" stroke-width="3"/><rect x="1476" y="180" width="8" height="6" fill="#fff" stroke="#444" stroke-dasharray="2 1"/>
<path d="M1497 179v20" stroke="#bbb"/>
<circle cx="1514" cy="188" r="7" fill="#98c0ec" stroke="#88a8c8"/><rect x="1510" y="187" width="8" height="2" fill="#2040a0"/>
<circle cx="1539" cy="188" r="7" fill="#98c0ec" stroke="#88a8c8"/><path d="M1535 188h8M1539 184v8" stroke="#2040a0" stroke-width="2"/>
<rect x="1557" y="178" width="44" height="22" fill="#fff" stroke="#777"/>
<text x="1559" y="193" class="a" font-size="13" fill="#222">150%</text>
<rect x="1636" y="179" width="13" height="9" fill="#bcd8f0"/><rect x="1636" y="190" width="13" height="9" fill="#fff" stroke="#5a90c0"/><path d="M1638 194h9" stroke="#3070a0"/>
<rect x="1673" y="179" width="14" height="20" fill="#e8f2fc" stroke="#5a90c0"/><path d="M1680 181v4M1680 193v4M1675 189h4M1682 189h4" stroke="#3070a0"/>
<rect x="1709" y="178" width="116" height="22" fill="#fff" stroke="#888"/>
<text x="1712" y="194" class="t" style="fill:#999">查找</text>

<!-- left strip -->
<rect x="1055" y="207" width="42" height="821" fill="#3a3a3a"/>
<path d="M1066 222h12l4 4v16h-16z" fill="#bbb" stroke="#777"/><path d="M1069 230h10M1069 234h10M1069 238h10" stroke="#777"/>
<path d="M1066 266h16v22h-16z" fill="#a8bcd0" stroke="#778"/><path d="M1067 266v14l3-3 3 3v-14z" fill="#3a70b8"/>
<path d="M1064 310h20v18h-20z" fill="#888"/><path d="M1066 329l18-18" stroke="#90b8e0" stroke-width="2.500"/>
<path d="M1064 1000q0-3 3-3h7q3 0 3 3v5q0 3-3 3h-3l-3 3v-3q-4 0-4-3z" fill="#e0b040" stroke="#806010"/>
<path d="M1070 1004q0-3 3-3h8q3 0 3 3v6q0 3-3 3h-3l-2 4v-4h-3q-3 0-3-3z" fill="#d8b040" stroke="#806010"/>
<!-- white -->
<rect x="1097" y="207" width="823" height="821" fill="#fff"/>
<rect x="1097" y="207" width="823" height="2" fill="#b4b4b4" opacity=".5"/>
<g clip-path="url(#pc)">
<g fill="none" stroke="#111" stroke-width="1">
<path d="M1375.500 207V226"/>
<path d="M1399.600 207V232H1380q-4.500 0-4.500 4V250q0 3 5 3H1388L1399.600 258.500V273q0 3-4 3H1380q-4.500 0-4.500 4V343H1327q-4 0-4 4V357q0 3.500 4 3.500H1358q4.400 0 4.400 4V408q0 3-4 3H1327q-4 0-4 3V416q0 3.500 4 3.500H1358q4.400 0 4.400 4V590q0 3.500-4 3.500H1327q-4 0-4 4V617q0 4 4 4H1358q4.400 0 4.400 4V668q0 3.500-4 3.500H1327q-4 0-4 3V677q0 3 4 3H1358q4.400 0 4.400 4V849q0 4-4 4H1328q-5 0-5 5V905H1097"/>
<path d="M1097 865H1324M1330 865H1428M1362.400 862V937M1323.700 912V937"/>
<path d="M1097 527H1117.500"/>
<path d="M1117.500 527L1361 375M1117.500 527L1361 496M1117.500 527L1361 653M1117.500 527L1361 726" stroke-width=".8"/>
<path d="M1266 304H1290L1399 263" stroke-width=".8"/>
<path d="M1504 501H1480L1364 422" stroke-width=".8"/>
<path d="M1406.500 232H1429M1382 253L1410 247H1429M1406.500 257.500H1429M1406.500 274H1429M1382 278L1410 284.500H1429M1383 343H1429M1369 360.500H1429M1369 411H1429M1369 419.500H1429M1369 593.500H1429M1369 621H1429M1369 671.500H1429M1369 680H1429M1369 853H1429"/>
</g>
<path d="M1399.500 263l-9 2 2 4zM1361.500 375l-8 3 2 4zM1362 496l-9-1 0 3.500zM1362 653l-8-6-2 3zM1362 726.500l-7-8-3 3zM1364 421.500l3 8 3-3z" fill="#111"/>
<g class="d">
<text x="1432" y="236" class="d" textLength="20">5.475</text><text x="1432" y="250" class="d" textLength="20">5.294</text><text x="1432" y="261" class="d" textLength="20">5.256</text><text x="1432" y="277" class="d" textLength="20">5.119</text><text x="1432" y="288" class="d" textLength="20">5.081</text><text x="1432" y="346.500" class="d" textLength="20">4.516</text><text x="1432" y="364" class="d" textLength="20">4.372</text><text x="1432" y="414" class="d" textLength="20">3.931</text><text x="1432" y="423" class="d" textLength="20">3.856</text><text x="1432" y="597" class="d" textLength="20">2.353</text><text x="1432" y="624" class="d" textLength="20">2.116</text><text x="1432" y="675" class="d" textLength="20">1.675</text><text x="1432" y="684" class="d" textLength="20">1.600</text><text x="1432" y="857" class="d" textLength="15">.097</text><text x="1432" y="868" class="d" textLength="15">.000</text>
<text transform="translate(1327 957) rotate(-90)" class="d" textLength="20">4.188</text>
<text transform="translate(1366 958) rotate(-90)" class="d" textLength="20">4.532</text>
<text x="1507" y="496" class="d7" textLength="62">CHAMFER FINGERS</text><text x="1507" y="504.500" class="d7" textLength="48">45DEG X .020</text><text x="1507" y="513" class="d7" textLength="46">(TYP. 8 PLS.)</text>
<text x="1852" y="592" class="d" textLength="61">V SCORE DETAIL</text><text x="1824" y="609" class="d" textLength="110">WEB THICKNESS .015 TO .025</text><text x="1844" y="621" class="d" textLength="80">CUTTER 30 DEGREES</text>
<text x="1761" y="866" class="d" textLength="135">4) TOOLING HOLES CAN BE ADDED TO</text>
</g>
<path d="M1838 557H1888L1892 563 1896 557H1920M1838 572H1888L1892 566 1896 572H1920M1838 557l2 4-2 3 2 4-2 4" fill="none" stroke="#111"/>
<path d="M1758 937H1920M1758 937V1028M1902 937V1028M1758 1000H1920" fill="none" stroke="#111"/>
<g class="c">
<text x="1822" y="949" class="c" style="font-size:9px">PROPRIETARY INFORMATION</text><text x="1821" y="956" class="c">THIS DRAWING IS THE PROPERTY</text><text x="1821" y="964.500" class="c">OF AEROTECH, INC. AND IS</text><text x="1821" y="972.500" class="c">SUBMITTED IN CONFIDENCE AND</text><text x="1821" y="980" class="c">SHALL NOT BE REPRODUCED NOR</text><text x="1818" y="988" class="c">COPIED NOR DISCLOSED TO OTHERS</text><text x="1821" y="996" class="c">UNDER PENALTY OF LAW.</text>
<text x="1825" y="1011" class="c">TOLERANCES ON</text><text x="1788" y="1019.500" class="c">FRACTIONS</text><text x="1841" y="1019.500" class="c">DECIMALS</text><text x="1882" y="1019.500" class="c">ANGLES</text><text x="1774" y="1027.500" class="c">0 TO 6</text><text x="1801" y="1027.500" class="c">±1/32</text><text x="1841" y="1027.500" class="c">.XX ±.01</text><text x="1882" y="1027.500" class="c">± 0-30'</text>
</g>
<path d="M1758 863H1905" stroke="#e01818" stroke-width="2"/>
<path d="M1725 932L1920 1015" stroke="#e01818" stroke-width="2.600"/>
<rect x="1452" y="432.500" width="304" height="137" fill="none" stroke="#1fe81f" stroke-width="4" style="filter:drop-shadow(2px 3px 2px rgba(0,0,0,.45))"/>
<rect x="1575" y="477" width="167" height="62.500" fill="none" stroke="#e01010" stroke-width="2.600"/>
<text x="1579" y="503" class="r">切角角度45,</text>
<text x="1579" y="537" class="r">半径20mil</text>
<rect x="1125" y="200" width="235" height="74" fill="#fff" stroke="#e80e0e" stroke-width="3.500"/>
<text x="1128" y="232" class="r">角，角度20,深度</text>
<text x="1128" y="263" class="r">55mil（双面倒角）</text>
<text x="1235" y="298" class="c">BEVEL TAB</text><text x="1233" y="307" class="c">20DEG. X .055</text><text x="1235" y="316" class="c">BOTH SIDES</text>
<rect x="1080" y="554" width="62" height="138" fill="none" stroke="#e80e0e" stroke-width="2.600"/>
<text x="1097" y="580" class="r">角</text>
<text x="1101" y="620" class="r">,</text>
<text x="1098" y="647" class="r">l</text>
<text x="1097" y="677" class="r">)</text>
<rect x="1813" y="628.500" width="130" height="74" fill="none" stroke="#e80e0e" stroke-width="3"/>
<text x="1817" y="655" class="r">v-cut角度</text>
<text x="1817" y="689" class="r">余厚15mil</text>
<rect x="1753.500" y="732" width="220" height="94" fill="none" stroke="#e80e0e" stroke-width="3.500"/>
<text x="1757" y="758" class="r">工艺边上按我</text>
<text x="1757" y="792" class="r">位孔。</text>
<circle cx="1922" cy="865" r="22" fill="#40b050" stroke="#c4dcc4" stroke-width="2" style="filter:drop-shadow(0 2px 2px rgba(0,0,0,.4))"/>
<text x="1906" y="870" class="a" font-size="13" font-weight="bold" fill="#fff">68</text>
</g>
<rect x="1026" y="738.500" width="249" height="85" fill="#fff" stroke="#d81020" stroke-width="3" style="filter:drop-shadow(2px 3px 2px rgba(0,0,0,.4))"/>
<text x="1031" y="756" font-family="'Liberation Serif','Noto Serif CJK SC',serif" font-size="15.500" font-weight="bold" fill="#000">按附图指示倒角（注意8处）</text>
</svg>
</body></html>
